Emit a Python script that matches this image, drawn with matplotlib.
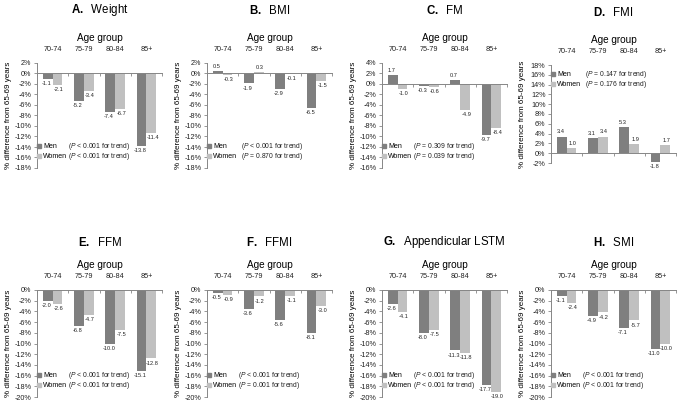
import numpy as np
import matplotlib
matplotlib.use("Agg")
import matplotlib.pyplot as plt
from matplotlib.patches import Patch

plt.rcParams['font.family'] = ['Liberation Sans', 'DejaVu Sans']
plt.rcParams['mathtext.fontset'] = 'custom'
plt.rcParams['mathtext.rm'] = 'Liberation Sans'
plt.rcParams['mathtext.it'] = 'Liberation Sans:italic'
plt.rcParams['mathtext.bf'] = 'Liberation Sans:bold'

ages = ['70-74', '75-79', '80-84', '85+']

letters = ['A', 'B', 'C', 'D', 'E', 'F', 'G', 'H']
names = ['Weight', 'BMI', 'FM', 'FMI', 'FFM', 'FFMI', 'Appendicular LSTM', 'SMI']

weight_men = [-1.1, -5.2, -7.4, -13.8]
weight_women = [-2.1, -3.4, -6.7, -11.4]
bmi_men = [0.5, -1.9, -2.9, -6.5]
bmi_women = [-0.3, 0.3, -0.1, -1.5]
fm_men = [1.7, -0.3, 0.7, -9.7]
fm_women = [-1.0, -0.6, -4.9, -8.4]
fmi_men = [3.4, 3.1, 5.3, -1.8]
fmi_women = [1.0, 3.4, 1.9, 1.7]
ffm_men = [-2.0, -6.8, -10.0, -15.1]
ffm_women = [-2.6, -4.7, -7.5, -12.8]
ffmi_men = [-0.5, -3.6, -5.6, -8.1]
ffmi_women = [-0.9, -1.2, -1.1, -3.0]
lstm_men = [-2.6, -8.0, -11.3, -17.7]
lstm_women = [-4.1, -7.5, -11.8, -19.0]
smi_men = [-1.1, -4.9, -7.1, -11.0]
smi_women = [-2.4, -4.2, -5.7, -10.0]

men_all = [weight_men, bmi_men, fm_men, fmi_men, ffm_men, ffmi_men, lstm_men, smi_men]
women_all = [weight_women, bmi_women, fm_women, fmi_women, ffm_women, ffmi_women, lstm_women, smi_women]

p_men = ['< 0.001', '< 0.001', '= 0.309', '= 0.147', '< 0.001', '< 0.001', '< 0.001', '< 0.001']
p_women = ['< 0.001', '= 0.870', '= 0.039', '= 0.176', '< 0.001', '= 0.001', '< 0.001', '< 0.001']

ylims = [(-18, 2), (-18, 2), (-16, 4), (-2, 18), (-20, 0), (-20, 0), (-20, 0), (-20, 0)]

men_col = '#7f7f7f'
women_col = '#c0c0c0'
axis_col = '#868686'

W, H = 683, 404
fig = plt.figure(figsize=(W / 100, H / 100), dpi=100)

lefts = [37, 207, 382, 551]
width = 125
rows = [(63, 168), (290, 397)]

bw = 0.31
x = np.arange(len(ages))
legends = []

for i in range(8):
    r = i // 4
    c = i % 4
    top, bot = rows[r]
    if i == 3:
        top, bot = 65, 163
    ax = fig.add_axes([lefts[c] / W, 1 - bot / H, width / W, (bot - top) / H])
    m = men_all[i]
    w = women_all[i]
    bm = ax.bar(x - bw / 2, m, bw, color=men_col, zorder=2)
    bwn = ax.bar(x + bw / 2, w, bw, color=women_col, zorder=2)
    for bars, vals, dx in ((bm, m, -1.0), (bwn, w, 1.0)):
        for b, v in zip(bars, vals):
            off = 1.5 if v >= 0 else -1.5
            ax.annotate('%.1f' % v, (b.get_x() + b.get_width() / 2, v),
                        xytext=(dx, off), textcoords='offset points',
                        ha='center', va='bottom' if v >= 0 else 'top',
                        fontsize=4.1, color='#222222')
    lo, hi = ylims[i]
    ax.set_ylim(lo, hi)
    ax.set_xlim(-0.5, 3.5)
    ax.set_yticks(np.arange(lo, hi + 1, 2))
    ax.set_yticklabels(['%d%%' % t for t in np.arange(lo, hi + 1, 2)])
    ax.tick_params(axis='y', labelsize=5.2, length=2.5, width=0.6,
                   color=axis_col, pad=1.5, labelcolor='#222222')

    ax.spines['top'].set_visible(False)
    ax.spines['right'].set_visible(False)
    ax.spines['bottom'].set_position(('data', 0))
    for s in ('left', 'bottom'):
        ax.spines[s].set_color(axis_col)
        ax.spines[s].set_linewidth(0.7)

    ax.set_xticks(x)
    ax.set_xticklabels(ages)
    ax.tick_params(axis='x', which='major', bottom=False, top=False,
                   labelbottom=False, labeltop=True, labelsize=5.2,
                   pad=4, labelcolor='#222222')
    ax.set_xticks(np.arange(-0.5, 4, 1), minor=True)
    ax.tick_params(axis='x', which='minor', bottom=True, top=False,
                   length=2, width=0.6, color=axis_col, direction='out')

    ax.annotate('Age group', (0.5, 1), xycoords='axes fraction',
                xytext=(0, 18), textcoords='offset points',
                ha='center', va='center', fontsize=7.2)
    ty = 38 if r == 0 else 34.5
    ax.annotate(r'$\bf{%s.}$  %s' % (letters[i], names[i]), (0.5, 1),
                xycoords='axes fraction', xytext=(0, ty),
                textcoords='offset points', ha='center', va='center',
                fontsize=8.3)

    ax.set_ylabel('% difference from 65-69 years', fontsize=5.8)
    ax.yaxis.set_label_coords(-0.2, 0.5)

    if i == 3:
        loc, anchor = 'upper left', (-0.01, 0.95)
    else:
        loc, anchor = 'lower left', (-0.01, 0.06)
    leg = ax.legend([Patch(color=men_col), Patch(color=women_col)],
                    ['Men', 'Women'], loc=loc, bbox_to_anchor=anchor,
                    fontsize=5, frameon=False, handlelength=0.6,
                    handleheight=0.6, handletextpad=0.3, labelspacing=0.42,
                    borderpad=0.2, borderaxespad=0)
    legends.append((ax, leg))

# place the P-for-trend notes next to the legend rows
fig.canvas.draw()
for i, (ax, leg) in enumerate(legends):
    t_men, t_women = leg.get_texts()
    bb_w = t_women.get_window_extent()
    gap = 3.0 if i in (1, 3) else 0.6
    for t, p in ((t_men, p_men[i]), (t_women, p_women[i])):
        bb = t.get_window_extent()
        ax.annotate(r'($P$ %s for trend)' % p,
                    (bb_w.x1 + gap, (bb.y0 + bb.y1) / 2),
                    xycoords='figure pixels', ha='left', va='center',
                    fontsize=4.9, color='#222222')

fig.savefig('out.png', dpi=100)
